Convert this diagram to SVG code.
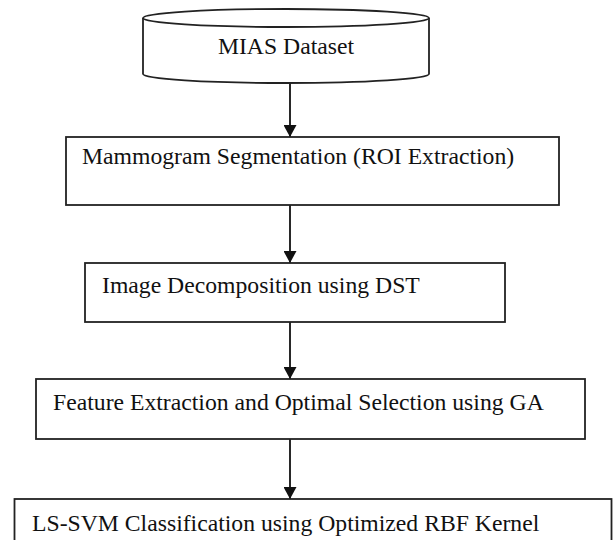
<svg xmlns="http://www.w3.org/2000/svg" width="613" height="540" viewBox="0 0 613 540">
<defs>
<style>
.b{fill:#fff;stroke:#222;stroke-width:1.8}
.t{font-family:"Liberation Serif","Times New Roman",serif;font-size:23.7px;fill:#111}
.c{stroke:#111;stroke-width:1.8;fill:none}
</style>
<marker id="ah" markerWidth="12" markerHeight="13" viewBox="0 0 12 13" refX="12" refY="6.5" orient="auto" markerUnits="userSpaceOnUse">
<path d="M0,0 L12,6.5 L0,13 z" fill="#111"/>
</marker>
</defs>
<rect width="613" height="540" fill="#fff"/>
<g id="connectors">
<line class="c" x1="290" y1="83" x2="290" y2="137" marker-end="url(#ah)"/>
<line class="c" x1="290" y1="205" x2="290" y2="263" marker-end="url(#ah)"/>
<line class="c" x1="290" y1="322" x2="290" y2="379" marker-end="url(#ah)"/>
<line class="c" x1="290" y1="439" x2="290" y2="499" marker-end="url(#ah)"/>
</g>
<g id="mias">
<path class="b" d="M143,18 L143,74 A143,9 0 0 0 429,74 L429,18"/>
<ellipse class="b" cx="286" cy="18" rx="143" ry="9"/>
<text class="t" x="286" y="54" text-anchor="middle">MIAS Dataset</text>
</g>
<g id="segmentation">
<rect class="b" x="66" y="137" width="493" height="68"/>
<text class="t" x="82" y="164">Mammogram Segmentation (ROI Extraction)</text>
</g>
<g id="decomposition">
<rect class="b" x="85" y="263" width="420" height="59"/>
<text class="t" x="102" y="293">Image Decomposition using DST</text>
</g>
<g id="feature">
<rect class="b" x="36" y="379" width="549" height="60"/>
<text class="t" x="53" y="410">Feature Extraction and Optimal Selection using GA</text>
</g>
<g id="classification">
<rect class="b" x="14.5" y="499" width="597" height="60"/>
<text class="t" x="32" y="531">LS-SVM Classification using Optimized RBF Kernel</text>
</g>
</svg>
